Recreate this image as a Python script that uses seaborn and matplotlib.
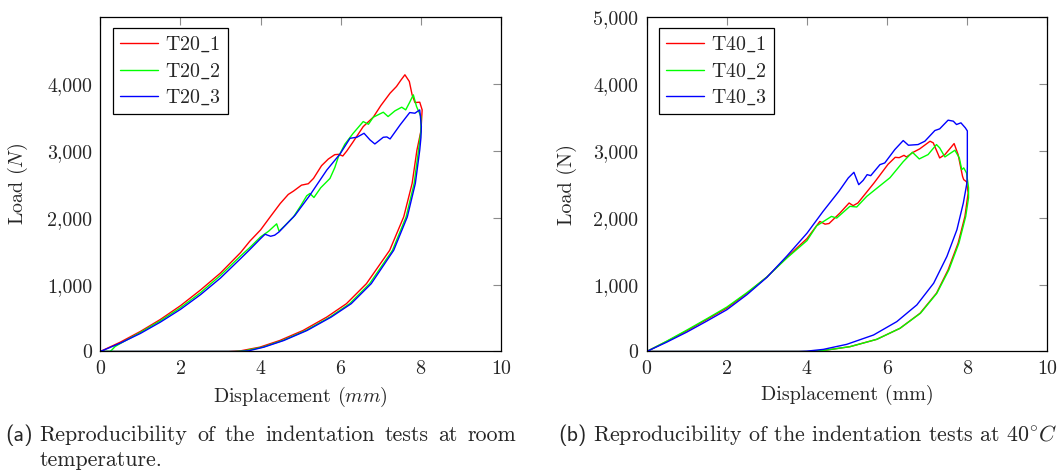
import matplotlib
matplotlib.use("Agg")
import matplotlib.pyplot as plt
from matplotlib.ticker import FuncFormatter, MultipleLocator
import seaborn as sns

# ---- data ----
labels_20 = [r"T20$\_$1", r"T20$\_$2", r"T20$\_$3"]
labels_40 = [r"T40$\_$1", r"T40$\_$2", r"T40$\_$3"]
colors = ["#ff0000", "#00ff00", "#0000ff"]

t20_1_x = [0, 0.5, 1, 1.5, 2, 2.5, 3, 3.5, 3.73, 4, 4.24, 4.49, 4.69, 4.82, 5.02, 5.19, 5.32, 5.52,
           5.69, 5.85, 5.95, 6.05, 6.15, 6.3, 6.56, 6.81, 7.0, 7.23, 7.39, 7.5, 7.6, 7.71, 7.78, 7.85,
           7.97, 8.03, 8.0, 7.9, 7.78, 7.57, 7.22, 6.64, 6.14, 5.65, 5.06, 4.48, 3.98, 3.5, 3.2, 0]
t20_1_y = [0, 140, 300, 480, 685, 920, 1175, 1480, 1650, 1820, 2015, 2215, 2350, 2400, 2489, 2510, 2590, 2780,
           2880, 2945, 2950, 2925, 3000, 3130, 3365, 3505, 3680, 3865, 3965, 4060, 4140, 4040, 3840, 3725,
           3730, 3615, 3300, 3013, 2514, 2014, 1514, 1015, 715, 515, 315, 165, 65, 10, 0, 0]

t20_2_x = [0, 0.25, 0.37, 0.5, 1, 1.5, 2, 2.5, 3, 3.5, 3.73, 4.0, 4.2, 4.4, 4.46, 4.6, 4.82, 5.0, 5.15,
           5.23, 5.33, 5.5, 5.73, 5.85, 5.94, 6.1, 6.31, 6.56, 6.69, 6.81, 7.06, 7.18, 7.35, 7.52, 7.62,
           7.72, 7.81, 7.89, 8.0, 8.0, 7.94, 7.83, 7.63, 7.29, 6.72, 6.22, 5.73, 5.13, 4.55, 4.05, 3.6, 3.35, 0]
t20_2_y = [0, 0, 75, 120, 285, 460, 655, 880, 1140, 1430, 1555, 1715, 1800, 1910, 1800, 1880, 2014, 2180, 2330,
           2364, 2304, 2450, 2589, 2750, 2913, 3100, 3265, 3440, 3400, 3505, 3580, 3515, 3600, 3655, 3615,
           3730, 3840, 3665, 3515, 3300, 3013, 2514, 2014, 1514, 1015, 715, 515, 315, 165, 65, 10, 0, 0]

t20_3_x = [0, 0.5, 1, 1.5, 2, 2.5, 3, 3.5, 3.73, 4.0, 4.11, 4.25, 4.35, 4.46, 4.86, 5.23, 5.65, 5.98,
           6.23, 6.4, 6.58, 6.73, 6.85, 7.06, 7.15, 7.23, 7.48, 7.72, 7.85, 7.97, 8.01, 8.0, 7.97, 7.86,
           7.66, 7.32, 6.76, 6.26, 5.76, 5.16, 4.58, 4.08, 3.7, 3.45, 0]
t20_3_y = [0, 125, 270, 440, 630, 850, 1100, 1390, 1525, 1690, 1754, 1724, 1740, 1789, 2039, 2339, 2714, 2954,
           3190, 3205, 3265, 3165, 3105, 3205, 3210, 3180, 3390, 3575, 3565, 3615, 3365, 3200, 3013, 2514,
           2014, 1514, 1015, 715, 515, 315, 165, 65, 10, 0, 0]

t40_1_x = [0, 0.5, 1, 1.5, 2, 2.5, 3, 3.5, 4, 4.32, 4.45, 4.55, 4.82, 5.05, 5.15, 5.27, 5.67, 6.02, 6.2,
           6.3, 6.42, 6.48, 6.65, 6.81, 7.07, 7.15, 7.31, 7.44, 7.56, 7.67, 7.77, 7.88, 7.91, 7.98, 8.02,
           7.94, 7.77, 7.52, 7.23, 6.82, 6.32, 5.74, 5.07, 4.49, 4.1, 0]
t40_1_y = [0, 150, 310, 480, 650, 870, 1115, 1410, 1690, 1946, 1905, 1915, 2071, 2222, 2182, 2222, 2520, 2800, 2905,
           2900, 2935, 2910, 2981, 3031, 3146, 3121, 2896, 2946, 3031, 3111, 2946, 2621, 2571, 2540, 2372,
           2022, 1622, 1222, 872, 572, 347, 182, 72, 22, 0, 0]

t40_2_x = [0, 0.5, 1, 1.5, 2, 2.5, 3, 3.5, 4, 4.24, 4.45, 4.61, 4.74, 5.07, 5.24, 5.49, 6.07, 6.4, 6.63,
           6.8, 7.02, 7.23, 7.31, 7.44, 7.69, 7.8, 7.86, 7.91, 7.98, 8.03, 8.03, 7.96, 7.79, 7.54, 7.24,
           6.83, 6.32, 5.74, 5.07, 4.49, 4.1, 0]
t40_2_y = [0, 155, 320, 490, 665, 880, 1115, 1400, 1660, 1880, 1960, 2021, 1996, 2172, 2162, 2321, 2600, 2840, 2981,
           2881, 2946, 3096, 3046, 2911, 3011, 2896, 2721, 2747, 2671, 2450, 2300, 2022, 1622, 1222, 872,
           572, 347, 182, 72, 22, 0, 0]

t40_3_x = [0, 0.5, 1, 1.5, 2, 2.5, 3, 3.5, 4, 4.4, 4.8, 5.03, 5.17, 5.29, 5.4, 5.5, 5.59, 5.82, 5.94,
           6.19, 6.4, 6.53, 6.77, 6.94, 7.19, 7.31, 7.52, 7.65, 7.73, 7.84, 7.95, 8.0, 8.0, 7.99, 7.9,
           7.74, 7.49, 7.16, 6.74, 6.24, 5.66, 4.99, 4.41, 3.99, 3.8, 0]
t40_3_y = [0, 140, 290, 455, 625, 850, 1110, 1430, 1770, 2096, 2400, 2597, 2681, 2496, 2560, 2646, 2631, 2796, 2821,
           3021, 3156, 3086, 3096, 3146, 3306, 3331, 3461, 3446, 3396, 3421, 3346, 3300, 2765, 2522, 2222,
           1822, 1422, 1022, 697, 447, 247, 107, 32, 5, 0, 0]

curves_20 = [(t20_1_x, t20_1_y), (t20_2_x, t20_2_y), (t20_3_x, t20_3_y)]
curves_40 = [(t40_1_x, t40_1_y), (t40_2_x, t40_2_y), (t40_3_x, t40_3_y)]

cap_a1 = "Reproducibility of the indentation tests at room"
cap_a2 = "temperature."
cap_b = r"Reproducibility of the indentation tests at $40^{\circ}C$"

sns.set_style("white")
plt.rcParams['font.family'] = ['cmr10', 'DejaVu Serif']
plt.rcParams['mathtext.fontset'] = 'cm'
plt.rcParams['axes.formatter.use_mathtext'] = True
FS = 14.4
CFS = 15.8

fig = plt.figure(figsize=(10.64, 4.74), dpi=100)
ax1 = fig.add_axes([0.09427, 0.25844, 0.37669, 0.70506])
ax2 = fig.add_axes([0.60780, 0.25844, 0.37669, 0.70506])


def draw(ax, curves, labels, ylabel, xlabel, yticks):
    for (xs, ys), lab, col in zip(curves, labels, colors):
        sns.lineplot(x=xs, y=ys, sort=False, estimator=None, color=col, label=lab,
                     linewidth=1.0, ax=ax)
    ax.set_xlim(0, 10)
    ax.set_ylim(0, 5000)
    ax.xaxis.set_major_locator(MultipleLocator(2))
    ax.set_yticks(yticks)
    ax.yaxis.set_major_formatter(FuncFormatter(lambda v, p: f"{v:,.0f}"))
    ax.tick_params(direction='in', length=6, width=0.8, color='0.55', top=True, right=True,
                   labelsize=FS, pad=6)
    for s in ax.spines.values():
        s.set_color('black')
        s.set_linewidth(0.9)
    ax.set_xlabel(xlabel, fontsize=FS, labelpad=5)
    ax.set_ylabel(ylabel, fontsize=FS, labelpad=12)
    leg = ax.legend(loc='upper left', bbox_to_anchor=(0.031, 0.968), borderaxespad=0,
                    fontsize=FS, fancybox=False, framealpha=1, edgecolor='black',
                    handlelength=1.9, handletextpad=0.35, labelspacing=0.35, borderpad=0.35)
    leg.get_frame().set_linewidth(0.9)


draw(ax1, curves_20, labels_20, "Load ($N$)", "Displacement ($mm$)", [0, 1000, 2000, 3000, 4000])
draw(ax2, curves_40, labels_40, "Load (N)", "Displacement (mm)", [0, 1000, 2000, 3000, 4000, 5000])

# captions
y1 = 1 - 441 / 474
y2 = 1 - 466 / 474
fig.text(5 / 1064, y1, "(a)", family='cmss10', fontsize=CFS, va='baseline')
fig.text(39.5 / 1064, y2, cap_a2, fontsize=CFS, va='baseline')
fig.text(558 / 1064, y1, "(b)", family='cmss10', fontsize=CFS, va='baseline')
fig.text(593 / 1064, y1, cap_b, fontsize=CFS, va='baseline')

# first line of caption (a) is justified between 39.5 px and 516 px
words = cap_a1.split()
objs = [fig.text(0, y1, w, fontsize=CFS, va='baseline') for w in words]
fig.canvas.draw()
r = fig.canvas.get_renderer()
widths = [o.get_window_extent(r).width for o in objs]
gap = (516 - 39.5 - sum(widths)) / (len(words) - 1)
xpos = 39.5
for o, w in zip(objs, widths):
    o.set_x(xpos / 1064)
    xpos += w + gap

fig.savefig("out.png", dpi=100)
